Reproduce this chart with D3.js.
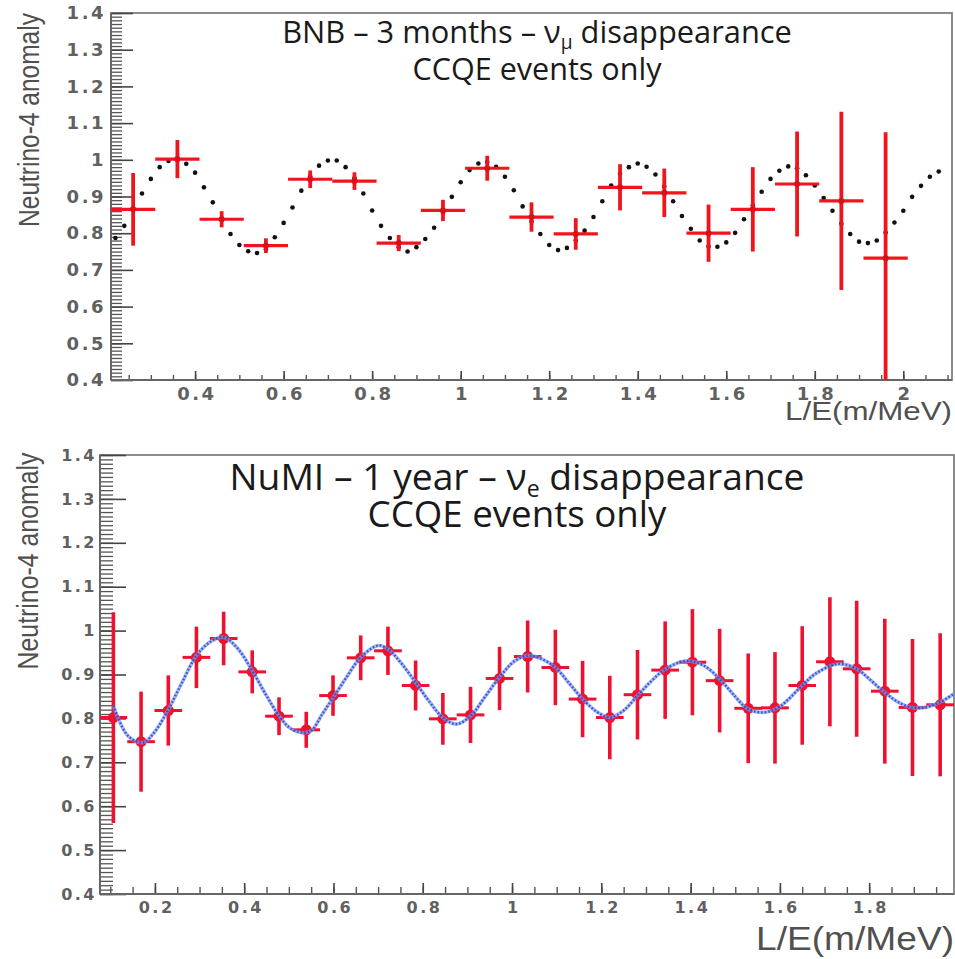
<!DOCTYPE html>
<html>
<head>
<meta charset="utf-8">
<script src="https://cdn.jsdelivr.net/npm/d3@7/dist/d3.min.js"></script>
<style>
  body { margin: 0; background: #fff; }
  svg { display: block; }
</style>
</head>
<body>
<svg id="chart" width="955" height="959"></svg>
<script>
// ---------- BNB (3 months, nu_mu disappearance) ----------
const bnbLE    = [0.26, 0.36, 0.46, 0.56, 0.66, 0.76, 0.86, 0.96, 1.06, 1.16, 1.26, 1.36, 1.46, 1.56, 1.66, 1.76, 1.86, 1.96];
const bnbRatio = [0.865, 1.002, 0.838, 0.766, 0.947, 0.942, 0.773, 0.862, 0.977, 0.844, 0.798, 0.925, 0.910, 0.800, 0.865, 0.934, 0.888, 0.732];
const bnbErr   = [0.099, 0.052, 0.022, 0.020, 0.024, 0.024, 0.022, 0.029, 0.034, 0.040, 0.043, 0.063, 0.066, 0.078, 0.115, 0.143, 0.243, 0.343];
const bnbBinHalf = 0.05;

// oscillation model sampled as black dots
const bnbModelLE = [0.22, 0.24, 0.26, 0.28, 0.30, 0.32, 0.34, 0.36, 0.38, 0.40, 0.42, 0.44, 0.46, 0.48, 0.50, 0.52, 0.54, 0.56, 0.58, 0.60,
  0.62, 0.64, 0.66, 0.68, 0.70, 0.72, 0.74, 0.76, 0.78, 0.80, 0.82, 0.84, 0.86, 0.88, 0.90, 0.92, 0.94, 0.96, 0.98, 1.00,
  1.02, 1.04, 1.06, 1.08, 1.10, 1.12, 1.14, 1.16, 1.18, 1.20, 1.22, 1.24, 1.26, 1.28, 1.30, 1.32, 1.34, 1.36, 1.38, 1.40,
  1.42, 1.44, 1.46, 1.48, 1.50, 1.52, 1.54, 1.56, 1.58, 1.60, 1.62, 1.64, 1.66, 1.68, 1.70, 1.72, 1.74, 1.76, 1.78, 1.80,
  1.82, 1.84, 1.86, 1.88, 1.90, 1.92, 1.94, 1.96, 1.98, 2.00, 2.02, 2.04, 2.06, 2.08];
const bnbModel = [0.787, 0.820, 0.865, 0.908, 0.948, 0.980, 0.997, 1.000, 0.989, 0.965, 0.925, 0.884, 0.840, 0.798, 0.768, 0.751, 0.746, 0.756, 0.789, 0.828,
  0.870, 0.916, 0.955, 0.984, 0.998, 0.998, 0.980, 0.950, 0.908, 0.862, 0.820, 0.787, 0.762, 0.750, 0.762, 0.784, 0.815, 0.856, 0.899, 0.939,
  0.972, 0.990, 0.994, 0.981, 0.954, 0.917, 0.873, 0.832, 0.798, 0.768, 0.754, 0.760, 0.780, 0.807, 0.844, 0.887, 0.930, 0.962, 0.980, 0.990,
  0.981, 0.960, 0.927, 0.887, 0.847, 0.812, 0.780, 0.764, 0.763, 0.775, 0.801, 0.838, 0.876, 0.913, 0.948, 0.970, 0.982, 0.977, 0.958, 0.930,
  0.896, 0.861, 0.826, 0.798, 0.777, 0.773, 0.780, 0.802, 0.829, 0.861, 0.899, 0.929, 0.954, 0.968];

// ---------- NuMI (1 year, nu_e disappearance) ----------
const numiLE = [0.107, 0.169, 0.230, 0.293, 0.354, 0.418, 0.478, 0.539, 0.599, 0.661, 0.722, 0.784, 0.845, 0.907, 0.972, 1.035,
  1.097, 1.158, 1.219, 1.281, 1.343, 1.404, 1.465, 1.529, 1.589, 1.650, 1.712, 1.772, 1.835, 1.897, 1.959];
const numiRatio = [0.802, 0.747, 0.818, 0.939, 0.982, 0.906, 0.805, 0.774, 0.852, 0.938, 0.954, 0.875, 0.799, 0.808, 0.891, 0.941,
  0.916, 0.844, 0.802, 0.854, 0.910, 0.928, 0.886, 0.823, 0.824, 0.875, 0.929, 0.913, 0.862, 0.825, 0.831];
const numiErr = [0.240, 0.114, 0.080, 0.070, 0.061, 0.049, 0.043, 0.041, 0.046, 0.051, 0.055, 0.057, 0.059, 0.064, 0.072, 0.082,
  0.086, 0.087, 0.095, 0.102, 0.111, 0.121, 0.118, 0.125, 0.127, 0.135, 0.147, 0.155, 0.165, 0.156, 0.163];
const numiBinHalf = 0.031;

// fitted oscillation curve (blue)
const numiFitLE = [0.107, 0.140, 0.174, 0.200, 0.230, 0.260, 0.293, 0.325, 0.354, 0.385, 0.418, 0.448, 0.478, 0.500, 0.525, 0.550,
  0.575, 0.600, 0.630, 0.661, 0.700, 0.722, 0.750, 0.784, 0.815, 0.845, 0.875, 0.907, 0.940, 0.972, 1.005, 1.035,
  1.065, 1.097, 1.128, 1.158, 1.190, 1.219, 1.250, 1.281, 1.312, 1.343, 1.390, 1.430, 1.465, 1.497, 1.529, 1.567,
  1.600, 1.650, 1.680, 1.730, 1.772, 1.800, 1.835, 1.867, 1.900, 1.930, 1.959, 1.990];
const numiFit = [0.829, 0.760, 0.745, 0.770, 0.820, 0.880, 0.943, 0.975, 0.985, 0.960, 0.909, 0.855, 0.806, 0.780, 0.768, 0.772,
  0.810, 0.848, 0.895, 0.939, 0.966, 0.958, 0.928, 0.882, 0.838, 0.802, 0.787, 0.805, 0.850, 0.894, 0.930, 0.943,
  0.936, 0.916, 0.880, 0.844, 0.815, 0.802, 0.818, 0.852, 0.885, 0.912, 0.931, 0.920, 0.890, 0.853, 0.821, 0.814,
  0.827, 0.875, 0.902, 0.924, 0.913, 0.890, 0.859, 0.836, 0.824, 0.826, 0.837, 0.856];

// ---------- axis ticks ----------
const yTickValues = [0.4, 0.5, 0.6, 0.7, 0.8, 0.9, 1.0, 1.1, 1.2, 1.3, 1.4];
const bnbXTicks  = [0.4, 0.6, 0.8, 1.0, 1.2, 1.4, 1.6, 1.8, 2.0];
const numiXTicks = [0.2, 0.4, 0.6, 0.8, 1.0, 1.2, 1.4, 1.6, 1.8];
const yTitle = "Neutrino-4 anomaly";
const xTitle = "L/E(m/MeV)";

const svg = d3.select("#chart");
const fmt = d3.format("~g");

// scale a text horizontally (in its own frame) so that it spans targetW
function stretchTo(sel, tx, ty, rot, targetW, vScale) {
  const w = sel.node().getComputedTextLength();
  const s = targetW / w;
  sel.attr("transform", `translate(${tx},${ty}) rotate(${rot}) scale(${s},${vScale || 1})`);
}

function drawPanel(p) {
  const x = d3.scaleLinear().domain(p.xDomain).range([p.left, p.right]);
  const y = d3.scaleLinear().domain([0.4, 1.4]).range([p.bottom, p.top]);
  const g = svg.append("g");

  const clipId = "clip-" + p.id;
  svg.append("clipPath").attr("id", clipId).append("rect")
    .attr("x", p.left).attr("y", p.top)
    .attr("width", p.right - p.left).attr("height", p.bottom - p.top);

  // frame
  g.append("rect")
    .attr("x", p.left).attr("y", p.top)
    .attr("width", p.right - p.left).attr("height", p.bottom - p.top)
    .attr("fill", "none").attr("stroke", "#808080").attr("stroke-width", 1.8);

  // y minor ticks (every 0.01), drawn inside the frame
  const yMinor = d3.range(40, 141).map(v => v / 100);
  g.append("g").attr("transform", `translate(${p.left},0)`)
    .call(d3.axisLeft(y).tickValues(yMinor).tickSize(-p.yMinorLen).tickFormat(""))
    .call(a => a.select(".domain").remove())
    .call(a => a.selectAll("line").attr("stroke", "#555").attr("stroke-width", 1.3));

  // y major ticks + labels
  g.append("g").attr("transform", `translate(${p.left},0)`)
    .call(d3.axisLeft(y).tickValues(yTickValues).tickSize(-p.yMajorLen).tickPadding(p.yPad).tickFormat(fmt))
    .call(a => a.select(".domain").remove())
    .call(a => a.selectAll("line").attr("stroke", "#444").attr("stroke-width", 1.6))
    .call(a => a.selectAll("text")
      .attr("font-family", "DejaVu Sans").attr("font-weight", "bold")
      .attr("letter-spacing", p.tickSpacing)
      .attr("font-size", p.tickFont).attr("fill", "#606060"));

  // x minor ticks (every 0.05)
  const xMinor = d3.range(0, 43).map(v => v * 0.05).filter(v => v >= p.xDomain[0] && v <= p.xDomain[1]);
  g.append("g").attr("transform", `translate(0,${p.bottom})`)
    .call(d3.axisBottom(x).tickValues(xMinor).tickSize(-p.xMinorLen).tickFormat(""))
    .call(a => a.select(".domain").remove())
    .call(a => a.selectAll("line").attr("stroke", "#555").attr("stroke-width", 1.4));

  // x major ticks + labels
  g.append("g").attr("transform", `translate(0,${p.bottom})`)
    .call(d3.axisBottom(x).tickValues(p.xTicks).tickSize(-p.xMajorLen).tickFormat(fmt))
    .call(a => a.select(".domain").remove())
    .call(a => a.selectAll("line").attr("stroke", "#444").attr("stroke-width", 1.6))
    .call(a => a.selectAll("text")
      .attr("y", p.xLabelY).attr("dy", 0).attr("dx", p.tickSpacing / 2)
      .attr("font-family", "DejaVu Sans").attr("font-weight", "bold")
      .attr("letter-spacing", p.tickSpacing)
      .attr("font-size", p.tickFont).attr("fill", "#606060"));

  // bottom & left axis lines
  g.append("line").attr("x1", p.left).attr("x2", p.right).attr("y1", p.bottom).attr("y2", p.bottom)
    .attr("stroke", "#666").attr("stroke-width", 2);
  g.append("line").attr("x1", p.left).attr("x2", p.left).attr("y1", p.top).attr("y2", p.bottom)
    .attr("stroke", "#666").attr("stroke-width", 2);

  // axis titles (condensed y title, widened x title)
  const yt = g.append("text")
    .attr("text-anchor", "middle")
    .attr("font-family", "Liberation Sans").attr("font-size", 24)
    .attr("fill", "#505050").text(yTitle);
  stretchTo(yt, p.yTitleX, p.yTitleY, -90, p.yTitleLen, 1.25);

  const xt = g.append("text")
    .attr("text-anchor", "end")
    .attr("font-family", "Liberation Sans").attr("font-size", p.xTitleFont)
    .attr("fill", "#505050").text(xTitle);
  stretchTo(xt, p.right, p.xTitleY, 0, p.xTitleLen, 1);

  // title lines
  const t1 = g.append("text")
    .attr("x", p.titleX).attr("y", p.title1Y).attr("text-anchor", "middle")
    .attr("font-family", "Open Sans").attr("font-size", p.titleFont).attr("fill", "#1a1a1a");
  t1.append("tspan").text(p.title1a);
  t1.append("tspan").attr("font-size", p.titleFont * 0.62).attr("dy", p.titleFont * 0.18).text(p.title1sub);
  t1.append("tspan").attr("dy", -p.titleFont * 0.18).text(p.title1b);
  const t2 = g.append("text")
    .attr("x", p.titleX).attr("y", p.title2Y).attr("text-anchor", "middle")
    .attr("font-family", "Open Sans").attr("font-size", p.titleFont).attr("fill", "#1a1a1a")
    .text("CCQE events only");
  // fit title widths
  [[t1, p.title1W], [t2, p.title2W]].forEach(([t, w]) => {
    const len = t.node().getComputedTextLength();
    const fs = p.titleFont * w / len;
    t.attr("font-size", fs);
    t.selectAll("tspan").each(function (d, i) {
      const ts = d3.select(this);
      if (i === 1) ts.attr("font-size", fs * 0.62).attr("dy", fs * 0.18);
      if (i === 2) ts.attr("dy", -fs * 0.18);
    });
  });

  return { x, y, g, clip: `url(#${clipId})` };
}

// ---------------- top panel ----------------
const bnbPanel = drawPanel({
  id: "bnb", left: 111, right: 952, top: 13, bottom: 380,
  xDomain: [0.21, 2.11], xTicks: bnbXTicks,
  yMinorLen: 11, yMajorLen: 22, xMinorLen: 5, xMajorLen: 9,
  yPad: 5, xLabelY: 20, tickFont: 18, tickSpacing: 2.5,
  yTitleX: 39, yTitleY: 120, yTitleLen: 214,
  xTitleY: 420, xTitleFont: 25, xTitleLen: 167,
  titleX: 537, title1Y: 43, title2Y: 80, titleFont: 25, title1W: 510, title2W: 249,
  title1a: "BNB \u2013 3 months \u2013 \u03bd", title1sub: "\u03bc", title1b: " disappearance"
});

{
  const { x, y, g, clip } = bnbPanel;
  const red = "#f2141c";
  const marks = g.append("g").attr("clip-path", clip);
  marks.selectAll("circle.model").data(bnbModelLE).join("circle")
    .attr("class", "model")
    .attr("cx", d => x(d)).attr("cy", (d, i) => y(bnbModel[i])).attr("r", 2.3)
    .attr("fill", "#111");
  const pts = bnbLE.map((le, i) => ({ le, v: bnbRatio[i], e: bnbErr[i] }));
  marks.selectAll("line.h").data(pts).join("line").attr("class", "h")
    .attr("x1", d => x(d.le - bnbBinHalf)).attr("x2", d => x(d.le + bnbBinHalf))
    .attr("y1", d => y(d.v)).attr("y2", d => y(d.v))
    .attr("stroke", red).attr("stroke-width", 3.2);
  marks.selectAll("line.v").data(pts).join("line").attr("class", "v")
    .attr("x1", d => x(d.le)).attr("x2", d => x(d.le))
    .attr("y1", d => y(d.v + d.e)).attr("y2", d => y(d.v - d.e))
    .attr("stroke", red).attr("stroke-width", 3.8);
  marks.selectAll("circle.pt").data(pts).join("circle").attr("class", "pt")
    .attr("cx", d => x(d.le)).attr("cy", d => y(d.v)).attr("r", 3)
    .attr("fill", "#d8101a");
}

// ---------------- bottom panel ----------------
const numiPanel = drawPanel({
  id: "numi", left: 100, right: 954, top: 455, bottom: 894,
  xDomain: [0.077, 1.99], xTicks: numiXTicks,
  yMinorLen: 13, yMajorLen: 26, xMinorLen: 7, xMajorLen: 11,
  yPad: 3, xLabelY: 19, tickFont: 16, tickSpacing: 2.5,
  yTitleX: 38, yTitleY: 561, yTitleLen: 217,
  xTitleY: 950, xTitleFont: 33, xTitleLen: 198,
  titleX: 517, title1Y: 490, title2Y: 527, titleFont: 30, title1W: 575, title2W: 299,
  title1a: "NuMI \u2013 1 year \u2013 \u03bd", title1sub: "e", title1b: " disappearance"
});

{
  const { x, y, g, clip } = numiPanel;
  const red = "#ee1230";
  const marks = g.append("g").attr("clip-path", clip);
  const pts = numiLE.map((le, i) => ({ le, v: numiRatio[i], e: numiErr[i] }));
  marks.selectAll("line.v").data(pts).join("line").attr("class", "v")
    .attr("x1", d => x(d.le)).attr("x2", d => x(d.le))
    .attr("y1", d => y(d.v + d.e)).attr("y2", d => y(d.v - d.e))
    .attr("stroke", red).attr("stroke-width", 3.6);
  marks.selectAll("line.h").data(pts).join("line").attr("class", "h")
    .attr("x1", d => x(d.le - numiBinHalf)).attr("x2", d => x(d.le + numiBinHalf))
    .attr("y1", d => y(d.v)).attr("y2", d => y(d.v))
    .attr("stroke", red).attr("stroke-width", 3);
  marks.selectAll("circle.pt").data(pts).join("circle").attr("class", "pt")
    .attr("cx", d => x(d.le)).attr("cy", d => y(d.v)).attr("r", 5.5)
    .attr("fill", red);

  const line = d3.line().curve(d3.curveCatmullRom.alpha(0.5))
    .x(d => x(d[0])).y(d => y(d[1]));
  const fitPts = numiFitLE.map((le, i) => [le, numiFit[i]]);
  marks.append("path").attr("d", line(fitPts))
    .attr("fill", "none").attr("stroke", "#7d98ee").attr("stroke-width", 3.6).attr("stroke-opacity", 0.7);
  marks.append("path").attr("d", line(fitPts))
    .attr("fill", "none").attr("stroke", "#2244cc").attr("stroke-width", 2.4)
    .attr("stroke-dasharray", "1.6 2").attr("stroke-opacity", 0.85);
}
</script>
</body>
</html>
